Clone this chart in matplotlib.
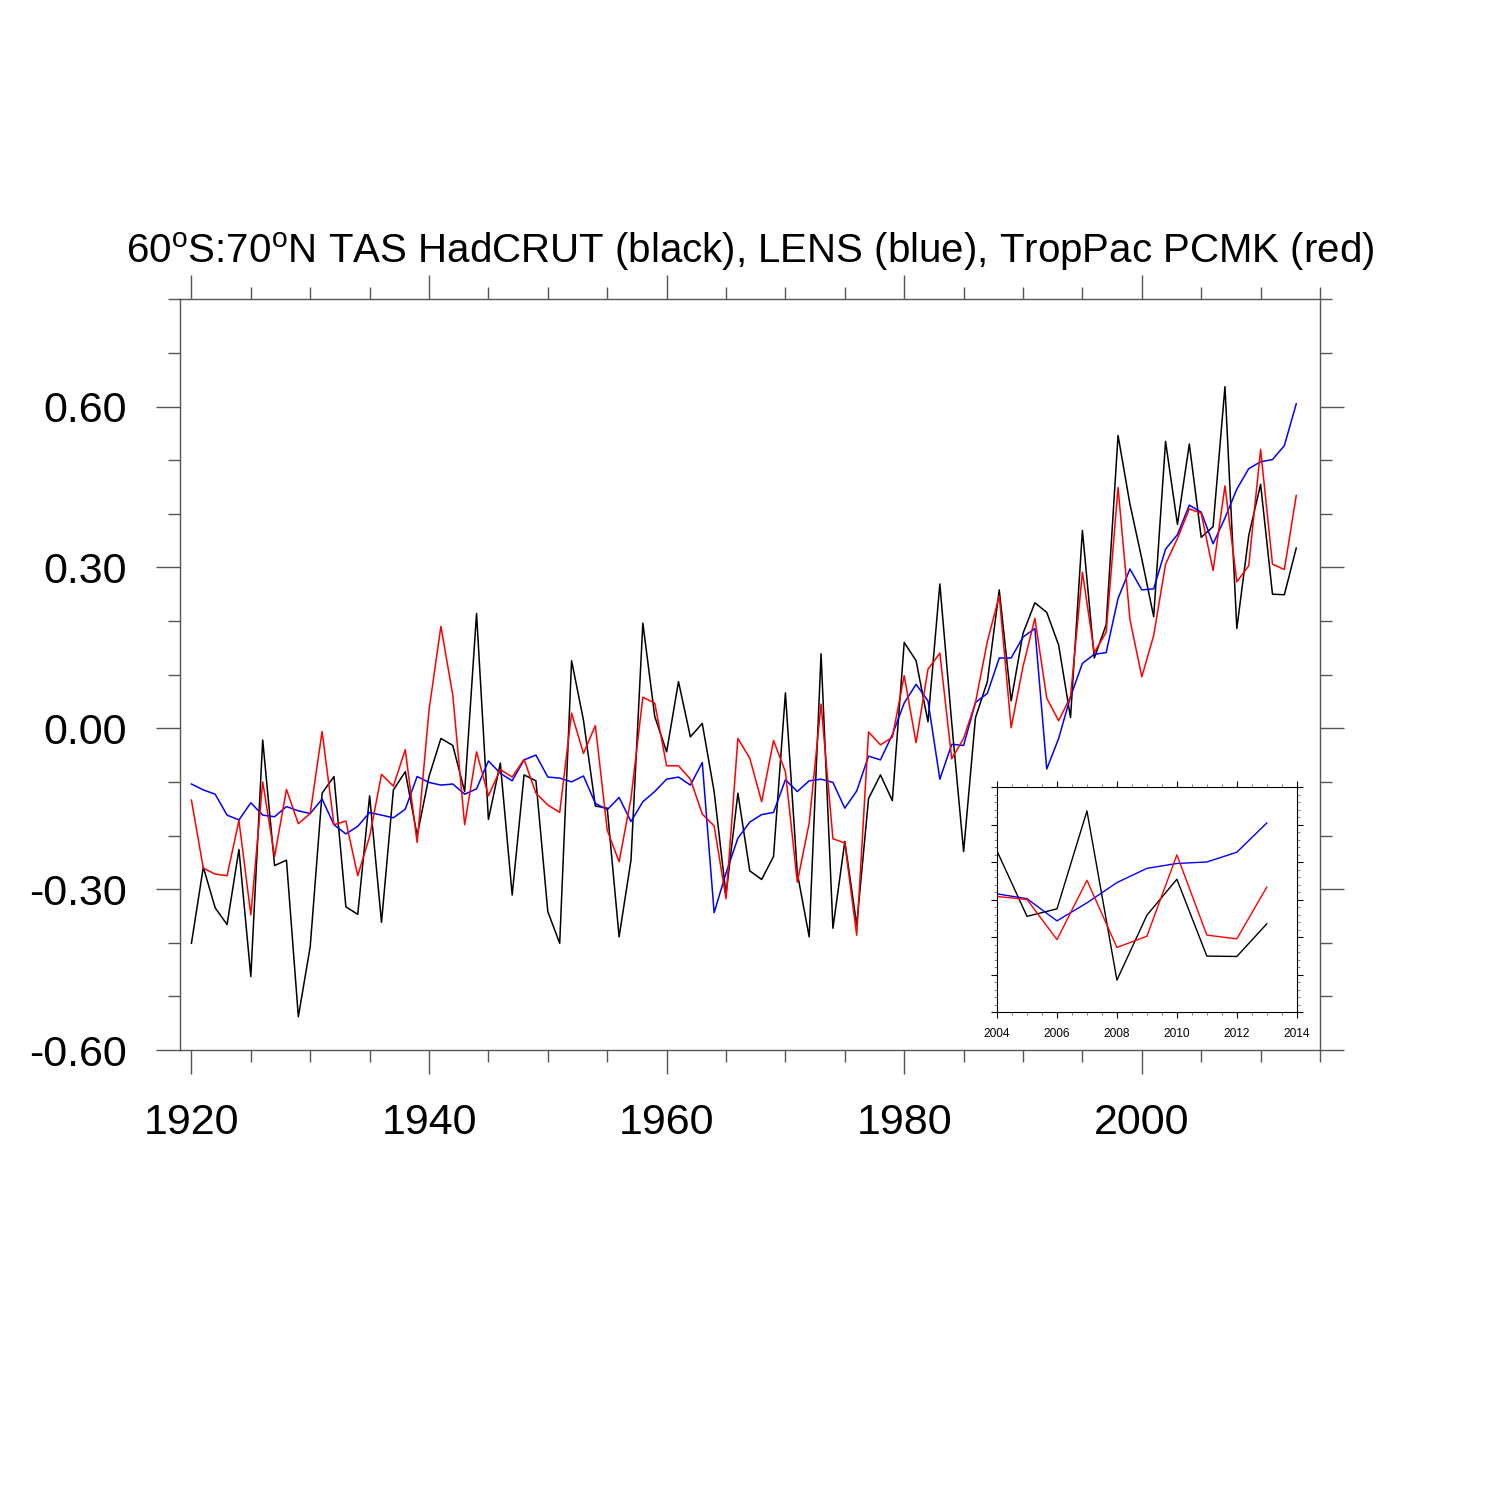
import matplotlib
matplotlib.use("Agg")
import numpy as np
import matplotlib.pyplot as plt
from matplotlib.ticker import MultipleLocator

plt.rcParams["font.family"] = ["Liberation Sans", "DejaVu Sans"]
plt.rcParams["mathtext.fontset"] = "custom"
plt.rcParams["mathtext.rm"] = "Liberation Sans"

years = np.arange(1920, 2014)

# HadCRUT (black)
hadcrut = [-0.401, -0.259, -0.335, -0.366, -0.226, -0.463, -0.022, -0.256, -0.246, -0.538,
           -0.407, -0.121, -0.090, -0.333, -0.347, -0.126, -0.362, -0.115, -0.081, -0.200,
           -0.090, -0.019, -0.032, -0.118, 0.214, -0.170, -0.065, -0.311, -0.087, -0.098,
           -0.342, -0.401, 0.126, 0.015, -0.145, -0.149, -0.389, -0.246, 0.196, 0.022,
           -0.044, 0.087, -0.016, 0.009, -0.118, -0.310, -0.121, -0.266, -0.282, -0.239,
           0.066, -0.270, -0.389, 0.139, -0.373, -0.211, -0.367, -0.131, -0.087, -0.135,
           0.160, 0.126, 0.012, 0.269, 0.010, -0.230, 0.020, 0.087, 0.258, 0.051,
           0.177, 0.234, 0.216, 0.155, 0.020, 0.369, 0.131, 0.193, 0.546, 0.418,
           0.316, 0.208, 0.535, 0.380, 0.530, 0.356, 0.376, 0.637, 0.186, 0.359,
           0.455, 0.250, 0.249, 0.336]

# LENS (blue)
lens = [-0.104, -0.115, -0.123, -0.162, -0.171, -0.139, -0.162, -0.165, -0.146, -0.154,
        -0.159, -0.132, -0.180, -0.197, -0.183, -0.157, -0.162, -0.167, -0.151, -0.090,
        -0.101, -0.106, -0.104, -0.123, -0.113, -0.061, -0.084, -0.098, -0.059, -0.050,
        -0.091, -0.093, -0.100, -0.089, -0.140, -0.152, -0.129, -0.174, -0.137, -0.118,
        -0.095, -0.091, -0.106, -0.064, -0.344, -0.270, -0.205, -0.175, -0.161, -0.157,
        -0.096, -0.118, -0.098, -0.095, -0.101, -0.149, -0.117, -0.052, -0.059, -0.012,
        0.047, 0.082, 0.051, -0.095, -0.030, -0.032, 0.048, 0.065, 0.131, 0.131,
        0.170, 0.186, -0.076, -0.019, 0.059, 0.121, 0.138, 0.141, 0.242, 0.297,
        0.258, 0.260, 0.334, 0.361, 0.416, 0.403, 0.344, 0.392, 0.446, 0.484,
        0.497, 0.501, 0.527, 0.605]

# TropPac PCMK (red)
pcmk = [-0.134, -0.261, -0.272, -0.275, -0.172, -0.348, -0.100, -0.239, -0.114, -0.178,
        -0.159, -0.006, -0.180, -0.173, -0.275, -0.202, -0.086, -0.108, -0.040, -0.213,
        0.034, 0.190, 0.062, -0.180, -0.044, -0.126, -0.077, -0.091, -0.058, -0.121,
        -0.143, -0.157, 0.028, -0.047, 0.005, -0.190, -0.249, -0.131, 0.058, 0.047,
        -0.070, -0.070, -0.095, -0.160, -0.182, -0.318, -0.019, -0.056, -0.137, -0.023,
        -0.081, -0.287, -0.177, 0.045, -0.206, -0.214, -0.386, -0.007, -0.031, -0.017,
        0.098, -0.027, 0.110, 0.140, -0.057, -0.019, 0.048, 0.162, 0.247, 0.001,
        0.115, 0.205, 0.056, 0.014, 0.059, 0.291, 0.141, 0.179, 0.449, 0.203,
        0.096, 0.173, 0.306, 0.354, 0.409, 0.401, 0.294, 0.452, 0.273, 0.303,
        0.520, 0.306, 0.296, 0.434]

ytick_vals = [-0.6, -0.3, 0.0, 0.3, 0.6]
ytick_labels = ["-0.60", "-0.30", "0.00", "0.30", "0.60"]
xtick_vals = [1920, 1940, 1960, 1980, 2000]
inset_start = 2004

fig = plt.figure(figsize=(15, 15), dpi=100)

# main panel
ax = fig.add_axes([0.1197, 0.3, 0.7603, 0.5005])
ax.plot(years, hadcrut, color="black", lw=1.1)
ax.plot(years, lens, color="blue", lw=1.1)
ax.plot(years, pcmk, color="red", lw=1.1)
ax.set_xlim(1919, 2015)
ax.set_ylim(-0.6, 0.8)
ax.set_xticks(xtick_vals)
ax.set_yticks(ytick_vals)
ax.set_yticklabels(ytick_labels)
ax.xaxis.set_minor_locator(MultipleLocator(5))
ax.yaxis.set_minor_locator(MultipleLocator(0.1))
ax.tick_params(which="both", direction="out", top=True, right=True, width=1.0, colors="#555555")
ax.tick_params(which="major", length=17, labelsize=31, labelcolor="black")
ax.tick_params(axis="x", which="major", pad=21)
ax.tick_params(axis="y", which="major", pad=21)
ax.tick_params(which="minor", length=8.5)
for s in ax.spines.values():
    s.set_color("#555555")
    s.set_linewidth(1.0)

fig.text(0.5, 1 - 263 / 1500, r"60$^{\mathrm{o}}$S:70$^{\mathrm{o}}$N TAS HadCRUT (black), LENS (blue), TropPac PCMK (red)",
         ha="center", va="baseline", fontsize=29)

# inset: last decade
i0 = list(years).index(inset_start)
axin = fig.add_axes([0.6647, 0.3251, 0.1998, 0.15])
axin.set_facecolor("white")
axin.plot(years[i0:], hadcrut[i0:], color="black", lw=1.0)
axin.plot(years[i0:], lens[i0:], color="blue", lw=1.0)
axin.plot(years[i0:], pcmk[i0:], color="red", lw=1.0)
axin.set_xlim(2004, 2014)
axin.set_ylim(0.1, 0.7)
axin.set_xticks(np.arange(2004, 2015, 2))
axin.set_yticks(np.arange(0.1, 0.71, 0.1))
axin.set_yticklabels([])
axin.xaxis.set_minor_locator(MultipleLocator(0.5))
axin.yaxis.set_minor_locator(MultipleLocator(0.02))
axin.tick_params(which="both", direction="out", top=True, right=True, width=0.8)
axin.tick_params(which="major", length=4.5, labelsize=8.6, pad=6.5)
axin.tick_params(which="minor", length=2.5, color="#888888")
for s in axin.spines.values():
    s.set_linewidth(0.8)

fig.savefig("out.png", dpi=100)
